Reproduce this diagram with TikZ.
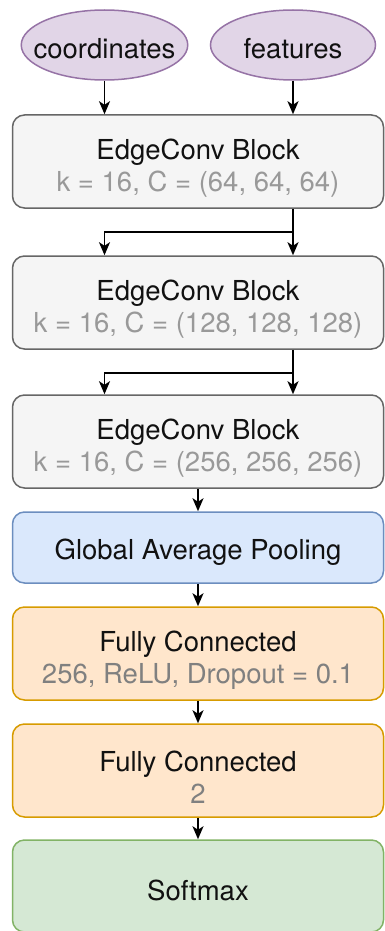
\documentclass[tikz,border=0pt]{standalone}
\usepackage{fontspec}
\setmainfont{TeX Gyre Heros}
\usetikzlibrary{shapes.geometric,arrows.meta}
\definecolor{grayfill}{HTML}{F5F5F5}
\definecolor{graydraw}{HTML}{666666}
\definecolor{bluefill}{HTML}{DAE8FC}
\definecolor{bluedraw}{HTML}{6C8EBF}
\definecolor{orangefill}{HTML}{FFE6CC}
\definecolor{orangedraw}{HTML}{D79B00}
\definecolor{greenfill}{HTML}{D5E8D4}
\definecolor{greendraw}{HTML}{82B366}
\definecolor{purplefill}{HTML}{E1D5E7}
\definecolor{purpledraw}{HTML}{9673A6}
\definecolor{subgrayA}{HTML}{999999}
\definecolor{subgrayB}{HTML}{808080}
\definecolor{maintext}{HTML}{111111}
\newcommand{\tstrut}[1]{\rule{0pt}{#1}}
\tikzset{
  every node/.style={font=\fontsize{27.5}{32}\selectfont, text=maintext},
  blockbox/.style={draw, rounded corners=12pt, line width=1.5pt, minimum width=371pt, align=center, inner sep=0pt},
  ecbox/.style={blockbox, fill=grayfill, draw=graydraw, minimum height=93pt},
  gapbox/.style={blockbox, fill=bluefill, draw=bluedraw, minimum height=71pt},
  fcbox/.style={blockbox, fill=orangefill, draw=orangedraw, minimum height=93pt},
  smbox/.style={blockbox, fill=greenfill, draw=greendraw, minimum height=92pt},
  inputell/.style={ellipse, draw=purpledraw, fill=purplefill, line width=1.5pt, minimum width=165pt, minimum height=70pt, inner xsep=-12pt, inner ysep=0pt},
  arr/.style={-{Stealth[length=13pt, width=11pt, inset=3.5pt]}, line width=1.8pt, black},
  seg/.style={line width=1.8pt, black}
}
\begin{document}
\begin{tikzpicture}[x=1pt, y=-1pt]
\useasboundingbox (0,0) rectangle (384,931);
\node[inputell] (coords) at (104.5,45) {\tstrut{28pt}coordinates};
\node[inputell] (feats) at (293,45) {\tstrut{28pt}features};
\node[ecbox] (b1) at (198,161.5) {\tstrut{34pt}EdgeConv Block\\\textcolor{subgrayA}{k = 16, C = (64, 64, 64)}};
\node[ecbox] (b2) at (198,302.5) {\tstrut{34pt}EdgeConv Block\\\textcolor{subgrayA}{k = 16, C = (128, 128, 128)}};
\node[ecbox] (b3) at (198,441.5) {\tstrut{34pt}EdgeConv Block\\\textcolor{subgrayA}{k = 16, C = (256, 256, 256)}};
\node[gapbox] (gap) at (198,547.5) {\tstrut{30pt}Global Average Pooling};
\node[fcbox] (fc1) at (198,653.5) {\tstrut{34pt}Fully Connected\\\textcolor{subgrayB}{256, ReLU, Dropout = 0.1}};
\node[fcbox] (fc2) at (198,770.5) {\tstrut{34pt}Fully Connected\\\textcolor{subgrayB}{2}};
\node[smbox] (sm) at (198,886) {\tstrut{30pt}Softmax};
\coordinate (j1) at (293,232);
\coordinate (j2) at (293,373);
% inputs
\draw[arr] (coords.south) -- (coords.south |- b1.north);
\draw[arr] (feats.south) -- (feats.south |- b1.north);
% block 1 -> block 2
\draw[seg] (b1.south -| j1) -- (j1);
\draw[arr] (j1) -- (b2.north -| j1);
\draw[arr] (j1) -- (j1 -| coords) -- (b2.north -| coords);
% block 2 -> block 3
\draw[seg] (b2.south -| j2) -- (j2);
\draw[arr] (j2) -- (b3.north -| j2);
\draw[arr] (j2) -- (j2 -| coords) -- (b3.north -| coords);
% chain
\draw[arr] (b3.south) -- (gap.north);
\draw[arr] (gap.south) -- (fc1.north);
\draw[arr] (fc1.south) -- (fc2.north);
\draw[arr] (fc2.south) -- (sm.north);
\end{tikzpicture}
\end{document}
